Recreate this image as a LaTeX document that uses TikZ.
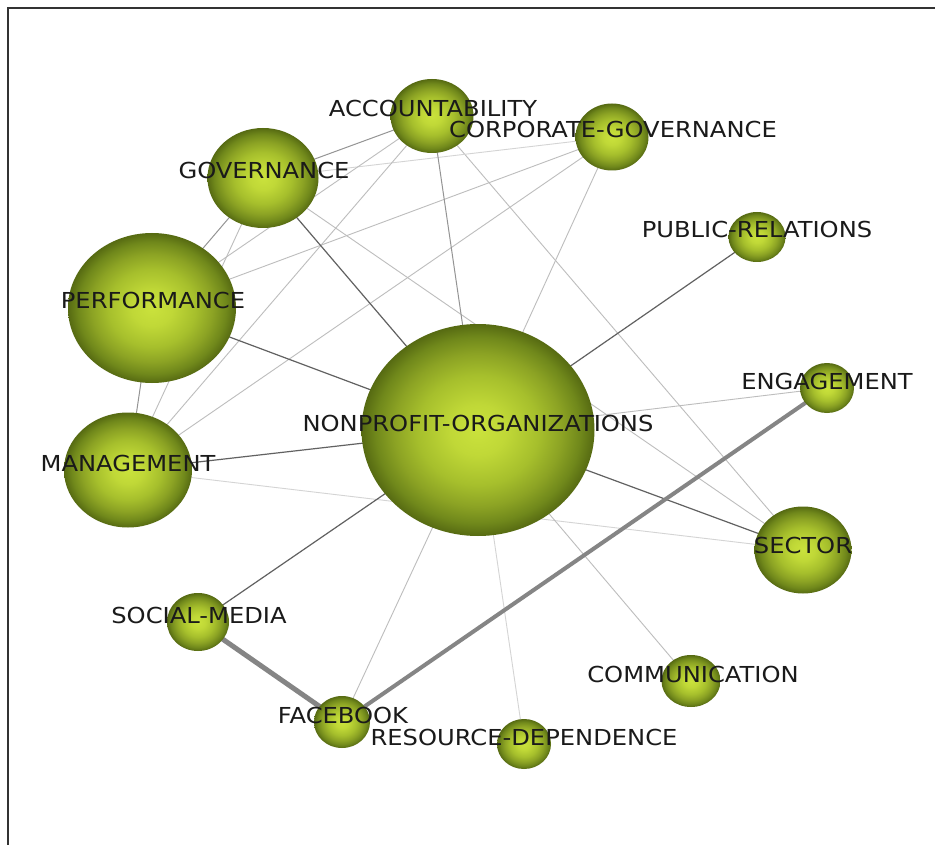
\documentclass[tikz,border=0pt]{standalone}
\usepackage{fontspec}
\newfontfamily\labfont[FakeStretch=1.1]{DejaVu Sans}
\usetikzlibrary{shapes.geometric,backgrounds}
\definecolor{bcA}{HTML}{CAE23C}
\definecolor{bcB}{HTML}{C0D837}
\definecolor{bcC}{HTML}{A6BF2C}
\definecolor{bcD}{HTML}{8CA324}
\definecolor{bcE}{HTML}{70881B}
\definecolor{bcF}{HTML}{566A12}
\definecolor{labcol}{HTML}{1A1A1A}
\pgfdeclareradialshading{greenball}{\pgfpoint{0bp}{0bp}}{color(0bp)=(bcA); color(6bp)=(bcB); color(13bp)=(bcC); color(18bp)=(bcD); color(22bp)=(bcE); color(25bp)=(bcF); color(50bp)=(bcF)}
\tikzset{
  ball/.style={ellipse, shading=greenball, inner sep=0pt, outer sep=0pt},
  lab/.style={font=\labfont\fontsize{22}{22}\selectfont, text=labcol, inner sep=0pt},
  edk/.style={draw=black!62, line width=1.2pt},
  emd/.style={draw=black!42, line width=1pt},
  elt/.style={draw=black!26, line width=0.9pt},
  evl/.style={draw=black!17, line width=0.9pt},
  ethick/.style={draw=black!48, line width=5pt},
  ethickb/.style={draw=black!48, line width=4pt},
}
\begin{document}
\begin{tikzpicture}[x=1pt,y=-1pt]
\useasboundingbox (0,0) rectangle (935,845);
% balls
\node[ball, minimum width=83, minimum height=74] (acc) at (432,116) {};
\node[ball, minimum width=73, minimum height=67] (cg) at (612,137) {};
\node[ball, minimum width=111, minimum height=100] (gov) at (263,178) {};
\node[ball, minimum width=168, minimum height=150] (perf) at (152,308) {};
\node[ball, minimum width=128, minimum height=115] (mgmt) at (128,470) {};
\node[ball, minimum width=233, minimum height=212] (np) at (478,430) {};
\node[ball, minimum width=57, minimum height=50] (pr) at (757,237) {};
\node[ball, minimum width=54, minimum height=50] (eng) at (827,388) {};
\node[ball, minimum width=97, minimum height=87] (sec) at (803,550) {};
\node[ball, minimum width=62, minimum height=58] (sm) at (198,622) {};
\node[ball, minimum width=56, minimum height=52] (fb) at (342,722) {};
\node[ball, minimum width=54, minimum height=50] (rd) at (524,744) {};
\node[ball, minimum width=59, minimum height=52] (com) at (691,681) {};
% background and edges
\begin{pgfonlayer}{background}
\fill[white] (0,0) rectangle (935,845);
\draw[black!80, line width=2pt] (8,845) -- (8,8) -- (935,8);
\draw[evl] (np.center) -- (rd.center);
\draw[evl] (mgmt.center) -- (sec.center);
\draw[elt] (np.center) -- (com.center);
\draw[elt] (np.center) -- (fb.center);
\draw[elt] (np.center) -- (cg.center);
\draw[elt] (np.center) -- (eng.center);
\draw[elt] (acc.center) -- (sec.center);
\draw[elt] (gov.center) -- (sec.center);
\draw[evl] (gov.center) -- (cg.center);
\draw[elt] (acc.center) -- (perf.center);
\draw[elt] (acc.center) -- (mgmt.center);
\draw[elt] (cg.center) -- (perf.center);
\draw[elt] (cg.center) -- (mgmt.center);
\draw[elt] (gov.center) -- (mgmt.center);
\draw[emd] (gov.center) -- (perf.center);
\draw[emd] (perf.center) -- (mgmt.center);
\draw[emd] (gov.center) -- (acc.center);
\draw[emd] (np.center) -- (acc.center);
\draw[edk] (np.center) -- (gov.center);
\draw[edk] (np.center) -- (sec.center);
\draw[edk] (np.center) -- (pr.center);
\draw[edk] (np.center) -- (perf.center);
\draw[edk] (np.center) -- (mgmt.center);
\draw[edk] (np.center) -- (sm.center);
\draw[ethick] (sm.center) -- (fb.center);
\draw[ethickb] (fb.center) -- (eng.center);
\end{pgfonlayer}
% labels
\node[lab] (lacc) at (433,108) {ACCOUNTABILITY};
\node[lab] (lcg) at (613,129) {CORPORATE-GOVERNANCE};
\node[lab] (lgov) at (264,170) {GOVERNANCE};
\node[lab] (lperf) at (153,300) {PERFORMANCE};
\node[lab] (lmgmt) at (128,463) {MANAGEMENT};
\node[lab] (lnp) at (478,423) {NONPROFIT-ORGANIZATIONS};
\node[lab] (lpr) at (757,229) {PUBLIC-RELATIONS};
\node[lab] (leng) at (827,381) {ENGAGEMENT};
\node[lab] (lsec) at (803,545) {SECTOR};
\node[lab] (lsm) at (199,615) {SOCIAL-MEDIA};
\node[lab] (lfb) at (343,715) {FACEBOOK};
\node[lab] (lrd) at (524,737) {RESOURCE-DEPENDENCE};
\node[lab] (lcom) at (693,674) {COMMUNICATION};
\end{tikzpicture}
\end{document}
